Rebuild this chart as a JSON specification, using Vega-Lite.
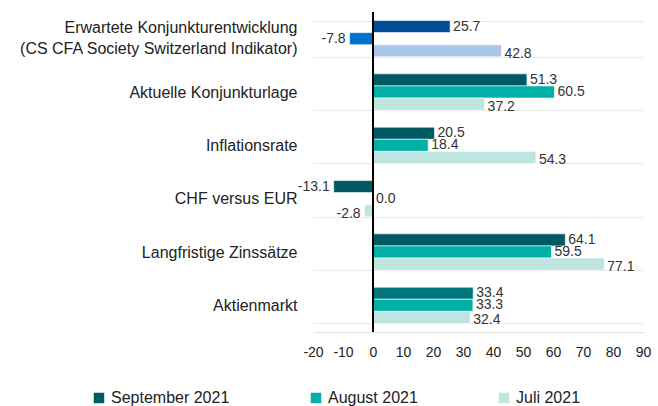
{
  "$schema": "https://vega.github.io/schema/vega-lite/v6.json",
  "width": 330,
  "height": 320,
  "autosize": {"type": "none"},
  "padding": {"left": 313, "top": 12, "right": 15, "bottom": 74},
  "background": "white",
  "config": {
    "view": {"stroke": null},
    "font": "Liberation Sans",
    "text": {"font": "Liberation Sans"}
  },
  "data": {
    "values": [
      {"cat": "Erwartete Konjunkturentwicklung (CS CFA Society Switzerland Indikator)", "series": "September 2021", "value": 25.7},
      {"cat": "Erwartete Konjunkturentwicklung (CS CFA Society Switzerland Indikator)", "series": "August 2021", "value": -7.8},
      {"cat": "Erwartete Konjunkturentwicklung (CS CFA Society Switzerland Indikator)", "series": "Juli 2021", "value": 42.8},
      {"cat": "Aktuelle Konjunkturlage", "series": "September 2021", "value": 51.3},
      {"cat": "Aktuelle Konjunkturlage", "series": "August 2021", "value": 60.5},
      {"cat": "Aktuelle Konjunkturlage", "series": "Juli 2021", "value": 37.2},
      {"cat": "Inflationsrate", "series": "September 2021", "value": 20.5},
      {"cat": "Inflationsrate", "series": "August 2021", "value": 18.4},
      {"cat": "Inflationsrate", "series": "Juli 2021", "value": 54.3},
      {"cat": "CHF versus EUR", "series": "September 2021", "value": -13.1},
      {"cat": "CHF versus EUR", "series": "August 2021", "value": 0.0},
      {"cat": "CHF versus EUR", "series": "Juli 2021", "value": -2.8},
      {"cat": "Langfristige Zinssätze", "series": "September 2021", "value": 64.1},
      {"cat": "Langfristige Zinssätze", "series": "August 2021", "value": 59.5},
      {"cat": "Langfristige Zinssätze", "series": "Juli 2021", "value": 77.1},
      {"cat": "Aktienmarkt", "series": "September 2021", "value": 33.4},
      {"cat": "Aktienmarkt", "series": "August 2021", "value": 33.3},
      {"cat": "Aktienmarkt", "series": "Juli 2021", "value": 32.4}
    ]
  },
  "encoding": {
    "x": {
      "field": "value",
      "type": "quantitative",
      "title": null,
      "scale": {"domain": [-20, 90], "nice": false},
      "axis": {
        "values": [-20, -10, 0, 10, 20, 30, 40, 50, 60, 70, 80, 90],
        "labelOverlap": false,
        "labelFlush": false,
        "labelExpr": "replace(datum.label, '\u2212', '-')",
        "grid": false,
        "ticks": false,
        "domain": true,
        "domainColor": "#e0e0e0",
        "labelFontSize": 14,
        "labelColor": "#222222",
        "labelPadding": 13
      }
    },
    "y": {
      "field": "cat",
      "type": "nominal",
      "sort": null,
      "title": null,
      "scale": {"paddingInner": 0.32, "paddingOuter": 0.16},
      "axis": {
        "tickBand": "extent",
        "grid": true,
        "gridColor": "#e8e8e8",
        "gridWidth": 1,
        "ticks": false,
        "domain": false,
        "labelFontSize": 16,
        "labelColor": "#222222",
        "labelPadding": 16,
        "labelLimit": 400,
        "labelLineHeight": 21,
        "labelOffset": {
          "condition": {"test": "datum.value === 'Erwartete Konjunkturentwicklung (CS CFA Society Switzerland Indikator)'", "value": -11},
          "value": 0
        },
        "labelExpr": "datum.value === 'Erwartete Konjunkturentwicklung (CS CFA Society Switzerland Indikator)' ? ['Erwartete Konjunkturentwicklung', '(CS CFA Society Switzerland Indikator)'] : datum.value"
      }
    },
    "yOffset": {
      "field": "series",
      "type": "nominal",
      "sort": ["September 2021", "August 2021", "Juli 2021"],
      "scale": {"paddingInner": 0, "paddingOuter": 0}
    }
  },
  "layer": [
    {
      "mark": {"type": "bar", "stroke": "white", "strokeWidth": 0.6},
      "encoding": {
        "color": {
          "condition": [
            {"test": "datum.cat === 'Erwartete Konjunkturentwicklung (CS CFA Society Switzerland Indikator)' && datum.series === 'September 2021'", "value": "#004C97"},
            {"test": "datum.cat === 'Erwartete Konjunkturentwicklung (CS CFA Society Switzerland Indikator)' && datum.series === 'August 2021'", "value": "#0070CD"},
            {"test": "datum.cat === 'Erwartete Konjunkturentwicklung (CS CFA Society Switzerland Indikator)' && datum.series === 'Juli 2021'", "value": "#AAC6E8"},
            {"test": "datum.cat === 'Aktienmarkt' && datum.series === 'September 2021'", "value": "#00777D"}
          ],
          "field": "series",
          "type": "nominal",
          "scale": {
            "domain": ["September 2021", "August 2021", "Juli 2021"],
            "range": ["#005A64", "#00B0A8", "#BEE5E0"]
          },
          "legend": {
            "title": null,
            "orient": "none",
            "legendX": -222,
            "legendY": 378,
            "direction": "horizontal",
            "symbolType": "square",
            "symbolSize": 110,
            "symbolStrokeWidth": 0,
            "labelFontSize": 16,
            "labelColor": "#222222",
            "labelOffset": 4,
            "columnPadding": 78
          }
        }
      }
    },
    {
      "mark": {
        "type": "text",
        "fontSize": 14,
        "color": "#333333",
        "baseline": "middle",
        "text": {"expr": "replace(format(datum.value, '.1f'), '\u2212', '-')"},
        "align": {"expr": "datum.value < 0 ? 'right' : 'left'"},
        "dx": {"expr": "datum.value < 0 ? -4 : 3"},
        "dy": {"expr": "datum.series === 'Juli 2021' ? 3 : 0"}
      }
    },
    {
      "mark": {"type": "rule", "color": "black", "strokeWidth": 2},
      "encoding": {"x": {"datum": 0}, "y": null, "yOffset": null}
    }
  ]
}
